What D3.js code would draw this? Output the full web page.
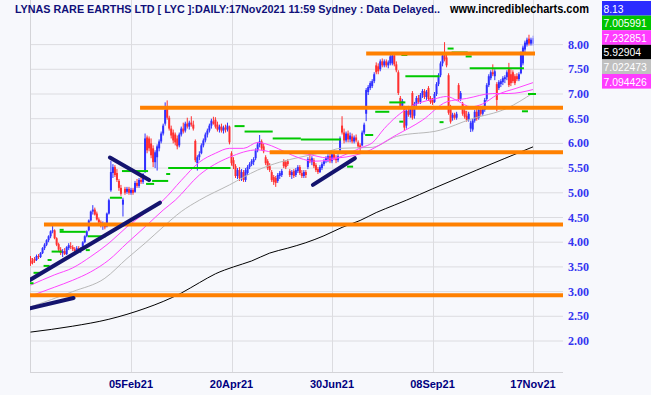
<!DOCTYPE html>
<html>
<head>
<meta charset="utf-8">
<script src="https://cdn.jsdelivr.net/npm/d3@7"></script>
<style>
  body { margin: 0; background: #f7f8fc; }
  svg { display: block; }
</style>
</head>
<body>
<script>
// daily candles, oldest first (index 0 .. 250)
const opens = [3.68,3.62,3.66,3.64,3.72,3.70,3.78,3.88,3.95,4.04, 4.12,4.22,4.24,4.08,3.96,3.85,3.78,3.82,3.76,3.88,
  3.92,3.90,3.86,3.82,3.88,3.84,3.88,4.00,4.12,4.24, 4.44,4.62,4.66,4.58,4.46,4.40,4.34,4.38,4.32,4.58,
  5.05,5.40,5.52,5.40,5.24,5.10,4.76,5.08,5.02,5.08, 5.00,5.06,5.02,5.20,5.14,5.26,5.22,5.45,6.12,6.10,
  6.00,5.90,5.62,5.72,5.90,6.04,6.20,6.40,6.70,6.52, 6.30,6.22,6.18,6.10,5.96,6.18,6.30,6.26,6.40,6.34,
  6.42,6.38,6.05,5.60,5.72,5.80,5.96,6.06,6.18,6.26, 6.36,6.44,6.48,6.38,6.28,6.34,6.26,6.32,6.28,6.34,
  5.80,5.66,5.54,5.34,5.46,5.30,5.42,5.26,5.40,5.52, 5.58,5.62,5.70,5.86,5.98,6.04,5.94,5.72,5.64,5.54,
  5.42,5.32,5.30,5.24,5.34,5.36,5.64,5.62,5.64,5.44, 5.36,5.44,5.36,5.44,5.52,5.40,5.34,5.42,5.52,5.68,
  5.62,5.66,5.56,5.48,5.42,5.50,5.58,5.64,5.68,5.74, 5.64,5.78,5.70,5.66,5.86,6.36,6.22,6.06,6.20,6.08,
  6.14,6.04,6.12,6.02,5.96,5.96,6.22,6.60,7.04,7.12, 7.16,7.26,7.58,7.56,7.50,7.66,7.58,7.66,7.58,7.62,
  7.62,7.78,7.60,7.44,6.92,6.76,6.72,6.36,6.66,6.58, 7.02,6.56,6.80,6.92,6.84,6.98,7.06,6.94,7.12,6.92,
  6.88,6.84,7.00,7.20,7.38,7.62,7.84,7.74,7.38,6.74, 6.52,6.58,6.52,7.18,6.90,6.80,6.66,6.56,6.48,6.30,
  6.28,6.46,6.64,6.52,6.68,6.60,6.68,6.90,7.18,7.32, 7.44,7.36,7.20,7.12,7.20,7.24,7.30,7.34,7.52,7.40,
  7.44,7.36,7.36,7.30,7.42,7.62,7.90,8.00,8.12,8.02, 8.02];
const highs = [3.72,3.68,3.70,3.75,3.76,3.80,3.90,3.98,4.06,4.14, 4.24,4.33,4.26,4.10,3.99,3.90,3.86,3.88,3.92,3.98,
  4.00,3.94,3.90,3.92,3.92,3.90,4.02,4.14,4.24,4.46, 4.64,4.75,4.70,4.62,4.50,4.44,4.42,4.40,4.60,4.88,
  5.65,5.58,5.56,5.48,5.28,5.16,4.90,5.12,5.12,5.12, 5.10,5.10,5.24,5.28,5.30,5.36,5.40,6.20,6.16,6.14,
  6.10,5.96,5.86,5.98,6.08,6.24,6.40,6.83,6.87,6.56, 6.36,6.28,6.22,6.16,6.22,6.34,6.42,6.44,6.52,6.46,
  6.55,6.46,6.08,5.76,5.84,6.00,6.10,6.22,6.30,6.40, 6.50,6.54,6.53,6.44,6.38,6.40,6.36,6.38,6.42,6.36,
  5.84,5.72,5.58,5.50,5.52,5.48,5.46,5.50,5.56,5.62, 5.68,5.72,5.90,6.02,6.17,6.08,6.00,5.76,5.68,5.60,
  5.46,5.36,5.34,5.40,5.44,5.48,5.68,5.66,5.68,5.48, 5.46,5.48,5.50,5.56,5.56,5.46,5.46,5.46,5.72,5.82,
  5.74,5.70,5.60,5.52,5.56,5.62,5.68,5.74,5.78,5.80, 5.82,5.85,5.76,5.78,6.14,6.55,6.30,6.24,6.26,6.22,
  6.20,6.16,6.18,6.06,6.00,6.26,6.42,7.12,7.18,7.26, 7.30,7.44,7.64,7.62,7.70,7.72,7.70,7.70,7.68,7.80,
  7.83,7.82,7.66,7.48,6.96,6.90,6.76,6.72,6.76,6.74, 7.06,6.84,6.96,6.98,7.02,7.10,7.10,7.08,7.16,6.96,
  6.92,7.04,7.24,7.42,7.66,7.82,8.05,7.80,7.42,6.78, 6.62,6.62,6.64,7.22,7.06,6.84,6.70,6.66,6.64,6.46,
  6.50,6.68,6.70,6.72,6.76,6.76,6.92,7.22,7.40,7.48, 7.60,7.50,7.24,7.28,7.30,7.36,7.38,7.48,7.63,7.50,
  7.48,7.40,7.42,7.44,7.86,7.98,8.08,8.14,8.20,8.14, 8.18];
const lows = [3.52,3.55,3.58,3.62,3.66,3.68,3.76,3.84,3.92,4.00, 4.08,4.18,4.06,3.92,3.82,3.74,3.70,3.74,3.74,3.84,
  3.86,3.82,3.78,3.78,3.80,3.78,3.86,3.98,4.10,4.22, 4.42,4.56,4.54,4.44,4.36,4.30,4.25,4.26,4.30,4.56,
  5.02,5.30,5.32,5.22,5.04,4.94,4.52,4.96,4.98,4.96, 4.96,4.96,5.00,5.10,5.10,5.18,5.18,5.40,5.80,5.84,
  5.70,5.52,5.50,5.45,5.84,6.00,6.16,6.36,6.48,6.26, 6.10,6.00,5.96,5.88,5.92,6.14,6.20,6.22,6.30,6.28,
  6.34,6.26,5.62,5.45,5.66,5.78,5.92,6.02,6.12,6.22, 6.30,6.38,6.30,6.24,6.22,6.22,6.20,6.22,6.24,5.98,
  5.55,5.48,5.30,5.28,5.24,5.24,5.22,5.22,5.36,5.48, 5.54,5.56,5.66,5.82,5.92,5.86,5.80,5.56,5.46,5.42,
  5.22,5.16,5.12,5.20,5.28,5.32,5.50,5.48,5.54,5.32, 5.28,5.30,5.32,5.40,5.36,5.30,5.30,5.30,5.48,5.60,
  5.56,5.50,5.42,5.38,5.40,5.46,5.54,5.60,5.62,5.60, 5.60,5.66,5.60,5.62,5.82,6.18,6.00,6.02,6.02,6.02,
  6.00,6.00,6.02,5.90,5.82,5.94,6.18,6.45,6.98,7.08, 7.12,7.22,7.40,7.40,7.46,7.54,7.54,7.54,7.52,7.58,
  7.58,7.56,7.44,6.98,6.70,6.70,6.26,6.30,6.54,6.52, 6.48,6.50,6.76,6.80,6.80,6.92,6.90,6.88,6.86,6.80,
  6.78,6.82,6.96,7.16,7.34,7.56,7.66,7.54,6.58,6.40, 6.46,6.48,6.48,6.86,6.86,6.56,6.50,6.44,6.44,6.23,
  6.24,6.42,6.46,6.48,6.56,6.56,6.64,6.86,7.14,7.28, 7.36,7.28,6.65,7.08,7.14,7.18,7.22,7.28,7.14,7.16,
  7.22,7.18,7.26,7.26,7.40,7.58,7.84,7.96,7.98,7.98, 7.98];
const closes = [3.56,3.58,3.62,3.72,3.70,3.78,3.88,3.95,4.04,4.12, 4.22,4.24,4.08,3.95,3.85,3.78,3.82,3.76,3.90,3.94,
  3.90,3.86,3.82,3.88,3.84,3.86,4.00,4.12,4.22,4.44, 4.62,4.66,4.56,4.46,4.40,4.34,4.38,4.30,4.58,4.85,
  5.42,5.52,5.36,5.26,5.10,4.98,4.86,5.00,5.08,5.00, 5.06,5.00,5.20,5.14,5.26,5.22,5.38,6.10,5.86,5.90,
  5.76,5.62,5.82,5.94,6.04,6.20,6.36,6.68,6.52,6.30, 6.16,6.06,6.02,5.94,6.18,6.30,6.24,6.40,6.34,6.42,
  6.38,6.30,5.66,5.72,5.78,5.96,6.06,6.18,6.26,6.36, 6.46,6.40,6.34,6.28,6.34,6.26,6.32,6.28,6.36,6.02,
  5.60,5.54,5.34,5.46,5.30,5.42,5.26,5.46,5.52,5.58, 5.64,5.68,5.86,5.98,6.04,5.90,5.84,5.60,5.50,5.46,
  5.26,5.22,5.20,5.36,5.40,5.44,5.54,5.52,5.58,5.36, 5.42,5.34,5.46,5.52,5.40,5.34,5.42,5.36,5.68,5.64,
  5.70,5.54,5.46,5.42,5.52,5.58,5.64,5.70,5.74,5.64, 5.78,5.70,5.66,5.74,6.10,6.22,6.06,6.20,6.08,6.16,
  6.04,6.12,6.06,5.94,5.90,6.22,6.38,7.08,7.14,7.22, 7.26,7.40,7.44,7.46,7.66,7.58,7.66,7.58,7.64,7.76,
  7.78,7.60,7.48,7.02,6.76,6.86,6.32,6.66,6.58,6.70, 6.52,6.80,6.92,6.84,6.98,7.06,6.94,7.04,6.90,6.84,
  6.82,7.00,7.20,7.38,7.62,7.78,7.70,7.58,6.62,6.44, 6.58,6.52,6.60,6.90,7.02,6.60,6.54,6.48,6.60,6.42,
  6.46,6.64,6.50,6.68,6.60,6.72,6.88,7.18,7.36,7.44, 7.40,7.46,6.88,7.24,7.26,7.32,7.34,7.44,7.18,7.22,
  7.26,7.22,7.30,7.40,7.82,7.94,8.04,8.10,8.02,8.10, 8.13];

// moving averages: [day index, value]
const maFast = [[0,3.13],[12,3.34],[21,3.48],[30,3.71],[39,3.98],[48,4.31],[57,4.59],[66,4.85],[75,5.25],[84,5.62],
  [92,5.80],[99,5.90],[106,5.90],[113,6.02],[120,5.95],[127,5.82],[134,5.70],[141,5.64],[149,5.66],[157,5.78],
  [165,5.92],[170,6.01],[176,6.30],[182,6.54],[189,6.74],[195,6.84],[201,6.90],[207,6.95],[213,6.85],[219,6.74],
  [225,6.80],[232,6.98],[242,7.12],[250,7.23]];
const maMid = [[0,2.91],[12,3.09],[21,3.23],[30,3.40],[39,3.64],[48,3.98],[57,4.31],[66,4.65],[72,4.85],[84,5.36],
  [99,5.72],[113,5.87],[124,5.80],[134,5.80],[149,5.70],[165,5.80],[182,6.17],[195,6.47],[207,6.84],[217,6.91],
  [230,7.01],[238,7.01],[250,7.09]];
const maSlow = [[0,2.69],[21,3.00],[37,3.27],[48,3.67],[57,3.98],[66,4.31],[75,4.62],[84,4.85],[99,5.16],[113,5.46],
  [124,5.62],[134,5.72],[149,5.85],[154,5.90],[170,5.92],[182,6.14],[204,6.27],[219,6.49],[237,6.71],[250,7.02]];
const maLong = [[0,2.18],[21,2.30],[39,2.44],[57,2.66],[66,2.80],[75,2.97],[84,3.18],[92,3.36],[101,3.50],[110,3.62],
  [119,3.78],[128,3.88],[137,3.99],[146,4.13],[155,4.30],[164,4.44],[172,4.60],[181,4.75],[187,4.85],[200,5.08],
  [222,5.46],[250,5.93]];

// green stop steps: [from index, to index, level]
const stops = [[0,1,3.17],[2,6,3.38],[7,9,3.52],[9,10,3.64],[11,15,3.81],[15,16,4.25],[15,27,4.21],[28,29,3.84],
  [29,37,4.12],[40,45,4.9],[46,58,5.44],[58,61,5.18],[61,68,5.24],[68,69,5.38],[69,99,5.5],[102,106,6.35],
  [107,120,6.24],[121,134,6.1],[135,154,6.08],[158,160,5.53],[167,170,6.17],[172,178,6.64],[179,186,6.83],
  [184,185,6.44],[185,187,7.79],[187,203,7.36],[204,205,6.43],[208,210,7.92],[210,217,7.84],[217,219,7.76],
  [219,245,7.52],[245,247,6.65],[248,251,7.0]];

// hand drawn support / resistance: [from index, to index, price]
const levels = [[167,251,7.82],[54.5,265,6.72],[119,265,5.82],[6.7,265,4.36],[-0.3,265,2.925]];
// hand drawn trend lines: [index1, price1, index2, price2]
const trends = [[-0.3,3.235,64.4,4.80],[-0.3,2.66,21.4,2.87],[39.5,5.715,59,5.26],[140.5,5.16,161.4,5.70]];

const priceTicks = [2.0,2.5,3.0,3.5,4.0,4.5,5.0,5.5,6.0,6.5,7.0,7.5,8.0];
const dateIdx = [50,100,150,200,250];
const dateLabels = ["05Feb21","20Apr21","30Jun21","08Sep21","17Nov21"];

const legendVals = ["8.13","7.005991","7.232851","5.92904","7.022473","7.094426"];
const legendCols = ["#2b2bff","#00c400","#ff3cff","#000000","#c0c0c0","#ff3cff"];

const width = 651, height = 395;
const plotL = 30, plotR = 563, plotB = 372;

const x = d3.scaleLinear().domain([0, 250]).range([30.5, 533]);
const y = d3.scaleLinear().domain([2, 8]).range([341, 44.6]);

const svg = d3.select("body").append("svg")
  .attr("width", width)
  .attr("height", height);

svg.append("rect").attr("width", width).attr("height", height).attr("fill", "#f7f8fc");

svg.append("defs").append("clipPath").attr("id", "plot")
  .append("rect").attr("x", plotL).attr("y", 0).attr("width", plotR - plotL).attr("height", plotB);

// grid
svg.append("g").selectAll("line").data(priceTicks).join("line")
  .attr("x1", plotL).attr("x2", plotR)
  .attr("y1", d => y(d)).attr("y2", d => y(d))
  .attr("stroke", "#dcdce0").attr("stroke-width", 1);
svg.append("g").selectAll("line").data(dateIdx).join("line")
  .attr("x1", d => Math.round(x(d)) + 0.5).attr("x2", d => Math.round(x(d)) + 0.5)
  .attr("y1", 0).attr("y2", plotB)
  .attr("stroke", "#dcdce0");
svg.append("line").attr("x1", plotL + 0.5).attr("x2", plotL + 0.5).attr("y1", 0).attr("y2", plotB)
  .attr("stroke", "#d4d4d8");
svg.append("line").attr("x1", plotL).attr("x2", plotR).attr("y1", plotB + 0.5).attr("y2", plotB + 0.5)
  .attr("stroke", "#d4d4d8");

const plot = svg.append("g").attr("clip-path", "url(#plot)");

// candles
const idx = d3.range(closes.length);
const candleCol = i => i === closes.length - 1 ? "#9a9aff" : (closes[i] >= opens[i] ? "#3030ff" : "#ff3030");
plot.append("g").selectAll("line").data(idx).join("line")
  .attr("x1", i => x(i)).attr("x2", i => x(i))
  .attr("y1", i => y(highs[i])).attr("y2", i => y(lows[i]))
  .attr("stroke", candleCol).attr("stroke-width", 1);
plot.append("g").selectAll("rect").data(idx).join("rect")
  .attr("x", i => x(i) - 1)
  .attr("width", 2)
  .attr("y", i => y(Math.max(opens[i], closes[i])))
  .attr("height", i => Math.max(1, Math.abs(y(opens[i]) - y(closes[i]))))
  .attr("fill", candleCol);

// moving averages
const maLine = d3.line().x(d => x(d[0])).y(d => y(d[1])).curve(d3.curveMonotoneX);
[[maLong, "#000000"], [maSlow, "#b8b8b8"], [maMid, "#ff44ff"], [maFast, "#ff44ff"]].forEach(([data, col]) => {
  plot.append("path").attr("d", maLine(data))
    .attr("fill", "none").attr("stroke", col).attr("stroke-width", 1);
});

// green stop steps
plot.append("g").selectAll("line").data(stops).join("line")
  .attr("x1", d => x(d[0]) - 1).attr("x2", d => x(d[1]) + 1)
  .attr("y1", d => y(d[2])).attr("y2", d => y(d[2]))
  .attr("stroke", "#00c800").attr("stroke-width", 2);

// orange levels
plot.append("g").selectAll("line").data(levels).join("line")
  .attr("x1", d => x(d[0])).attr("x2", d => x(d[1]))
  .attr("y1", d => y(d[2])).attr("y2", d => y(d[2]))
  .attr("stroke", "#ff8000").attr("stroke-width", 4);

// trend lines
plot.append("g").selectAll("line").data(trends).join("line")
  .attr("x1", d => x(d[0])).attr("y1", d => y(d[1]))
  .attr("x2", d => x(d[2])).attr("y2", d => y(d[3]))
  .attr("stroke", "#14146e").attr("stroke-width", 4).attr("stroke-linecap", "round");

// price labels
svg.append("g").selectAll("text").data(priceTicks).join("text")
  .attr("x", 568).attr("y", d => y(d) + 4)
  .attr("font-family", "'Liberation Serif', 'Times New Roman', serif")
  .attr("font-weight", "bold").attr("font-size", 12)
  .attr("fill", "#3434f0")
  .text(d => d.toFixed(2));

// date labels
svg.append("g").selectAll("text").data(dateIdx).join("text")
  .attr("x", (d, i) => x(d)).attr("y", 388)
  .attr("text-anchor", "middle")
  .attr("font-family", "'Liberation Sans', Arial, sans-serif")
  .attr("font-weight", "bold").attr("font-size", 11)
  .attr("fill", "#000080")
  .text((d, i) => dateLabels[i]);

// title
svg.append("text").attr("x", 15).attr("y", 13)
  .attr("font-family", "'Liberation Sans', Arial, sans-serif")
  .attr("font-weight", "bold").attr("font-size", 11)
  .attr("fill", "#10107a")
  .attr("textLength", 425).attr("lengthAdjust", "spacingAndGlyphs")
  .text("LYNAS RARE EARTHS LTD [ LYC ]:DAILY:17Nov2021 11:59 Sydney : Data Delayed..");
svg.append("text").attr("x", 450).attr("y", 13)
  .attr("font-family", "'Liberation Sans', Arial, sans-serif")
  .attr("font-weight", "bold").attr("font-size", 12)
  .attr("fill", "#000000")
  .attr("textLength", 139).attr("lengthAdjust", "spacingAndGlyphs")
  .text("www.incrediblecharts.com");

// value legend
const leg = svg.append("g");
leg.selectAll("rect").data(legendVals).join("rect")
  .attr("x", 602).attr("y", (d, i) => 1 + i * 14.6)
  .attr("width", 49).attr("height", 14.6)
  .attr("fill", (d, i) => legendCols[i]);
leg.selectAll("text").data(legendVals).join("text")
  .attr("x", 603.5).attr("y", (d, i) => 12.5 + i * 14.6)
  .attr("font-family", "'Liberation Sans', Arial, sans-serif")
  .attr("font-size", 11).attr("fill", "#ffffff")
  .attr("textLength", d => (d.length - 1) * 5.8 + 2.6)
  .attr("lengthAdjust", "spacingAndGlyphs")
  .text(d => d);
</script>
</body>
</html>
